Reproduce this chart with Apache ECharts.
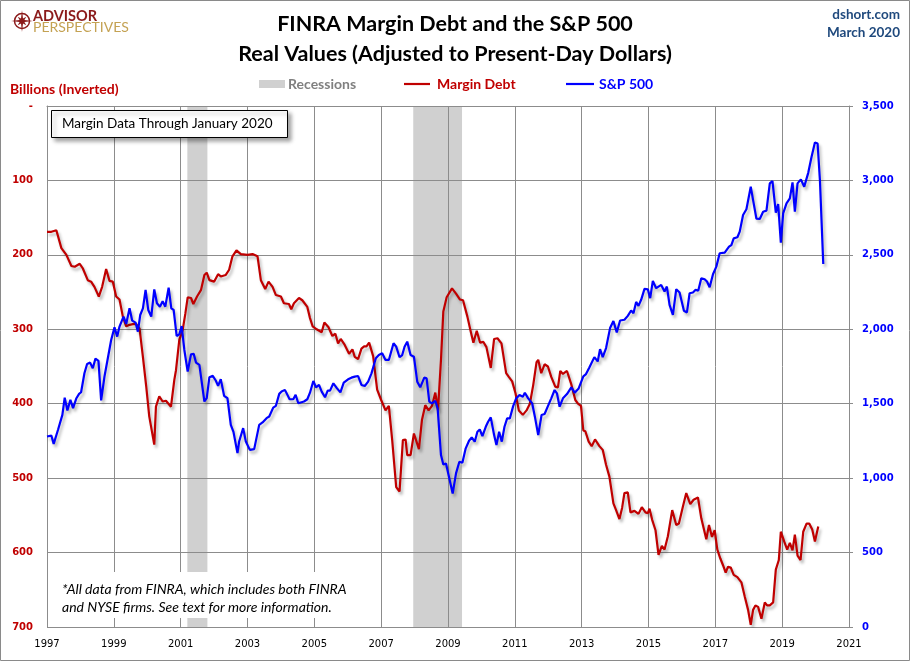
<!DOCTYPE html>
<html><head><meta charset="utf-8">
<script src="https://cdn.jsdelivr.net/npm/echarts@6/dist/echarts.min.js"></script>
<style>html,body{margin:0;padding:0;background:#fff}#c{width:910px;height:661px}</style>
</head><body><div id="c"></div><script>
// ---- Data (decimal years) ----
const marginDates = [
1997.00,1997.13,1997.28,1997.43,1997.58,1997.73,1997.83,1997.98,1998.07,1998.22,1998.32,1998.42,1998.55,1998.65,1998.77,1998.87,1998.97,
1999.07,1999.17,1999.27,1999.37,1999.47,1999.57,1999.67,1999.77,1999.87,1999.97,2000.06,2000.21,2000.26,2000.36,2000.46,2000.56,2000.71,
2000.81,2000.86,2000.96,2001.06,2001.14,2001.21,2001.31,2001.38,2001.49,2001.61,2001.71,2001.78,2001.86,2002.00,2002.12,2002.20,2002.35,
2002.45,2002.55,2002.67,2002.80,2003.00,2003.15,2003.30,2003.40,2003.53,2003.63,2003.75,2003.85,2004.00,2004.09,2004.24,2004.31,2004.39,
2004.54,2004.64,2004.79,2004.87,2004.95,2005.07,2005.22,2005.30,2005.42,2005.54,2005.63,2005.71,2005.79,2005.91,2006.04,2006.14,2006.21,
2006.31,2006.41,2006.49,2006.56,2006.64,2006.76,2006.88,2007.00,2007.13,2007.23,2007.33,2007.45,2007.55,2007.65,2007.73,2007.78,2007.88,
2007.98,2008.13,2008.22,2008.32,2008.42,2008.52,2008.62,2008.70,2008.79,2008.86,2008.96,2009.12,2009.24,2009.36,2009.45,2009.58,2009.68,
2009.76,2009.86,2009.96,2010.06,2010.15,2010.28,2010.38,2010.48,2010.60,2010.74,2010.82,2010.92,2011.02,2011.12,2011.24,2011.35,2011.45,
2011.55,2011.65,2011.70,2011.79,2011.89,2011.99,2012.09,2012.21,2012.29,2012.36,2012.44,2012.56,2012.69,2012.81,2012.89,2012.98,2013.05,
2013.11,2013.21,2013.30,2013.40,2013.53,2013.63,2013.73,2013.83,2013.95,2014.03,2014.13,2014.21,2014.28,2014.38,2014.46,2014.58,2014.70,
2014.80,2014.91,2014.98,2015.03,2015.11,2015.21,2015.30,2015.40,2015.48,2015.58,2015.71,2015.83,2015.91,2016.03,2016.13,2016.25,2016.35,
2016.48,2016.58,2016.63,2016.73,2016.81,2016.90,2016.98,2017.06,2017.15,2017.23,2017.31,2017.38,2017.46,2017.55,2017.66,2017.78,2017.88,
2017.98,2018.06,2018.13,2018.20,2018.28,2018.38,2018.48,2018.55,2018.63,2018.73,2018.81,2018.90,2018.96,2019.06,2019.15,2019.23,2019.31,
2019.38,2019.46,2019.55,2019.63,2019.73,2019.81,2019.90,2019.98,2020.08
];
const marginValues = [
169,169,167,191,200,215,216,212,218,234,236,243,256,243,219,235,236,
256,260,283,296,294,293,293,299,337,377,417,455,404,390,397,396,404,
368,355,314,301,279,257,258,266,256,247,227,224,234,236,226,229,227,
220,202,194,199,200,199,202,234,246,236,243,254,256,265,266,273,265,
258,261,270,285,296,300,304,291,297,309,306,319,313,321,333,327,337,
340,326,323,323,318,336,381,395,409,403,449,512,518,449,448,469,469,
440,461,422,402,409,403,385,409,341,276,257,245,252,260,261,283,303,
318,302,318,317,324,352,313,312,319,359,364,370,386,409,415,409,400,
375,344,341,359,347,350,364,377,378,356,360,356,374,395,400,403,436,
437,451,457,448,457,462,482,498,534,543,555,540,520,519,546,544,548,
539,546,547,541,556,570,603,591,596,578,543,563,561,538,520,535,529,
526,554,552,582,563,579,570,596,608,617,627,619,620,630,633,640,659,
677,697,677,671,673,689,667,671,671,667,623,610,572,585,596,587,597,
576,604,610,572,561,561,569,585,565
];
const spxDates = [
1997.00,1997.13,1997.20,1997.33,1997.46,1997.53,1997.61,1997.70,1997.78,1997.88,1997.96,1998.02,1998.12,1998.20,1998.29,1998.37,1998.45,
1998.54,1998.62,1998.72,1998.82,1998.92,1999.02,1999.10,1999.17,1999.29,1999.37,1999.47,1999.55,1999.65,1999.72,1999.79,1999.87,1999.95,
2000.03,2000.12,2000.21,2000.29,2000.38,2000.46,2000.54,2000.64,2000.72,2000.79,2000.88,2000.96,2001.03,2001.11,2001.21,2001.31,2001.39,
2001.46,2001.56,2001.71,2001.78,2001.86,2001.96,2002.05,2002.12,2002.20,2002.30,2002.40,2002.50,2002.58,2002.70,2002.75,2002.87,2002.95,
2003.07,2003.20,2003.35,2003.45,2003.57,2003.65,2003.70,2003.77,2003.85,2003.95,2004.02,2004.12,2004.26,2004.37,2004.44,2004.52,2004.69,
2004.79,2004.87,2004.97,2005.05,2005.14,2005.22,2005.32,2005.40,2005.47,2005.57,2005.68,2005.78,2005.88,2006.01,2006.11,2006.21,2006.31,
2006.41,2006.51,2006.61,2006.71,2006.84,2006.93,2007.03,2007.13,2007.23,2007.37,2007.45,2007.55,2007.63,2007.70,2007.78,2007.88,2007.98,
2008.08,2008.17,2008.29,2008.36,2008.44,2008.52,2008.62,2008.69,2008.79,2008.86,2008.94,2009.04,2009.14,2009.24,2009.34,2009.43,2009.53,
2009.63,2009.71,2009.80,2009.88,2009.95,2010.03,2010.13,2010.20,2010.28,2010.38,2010.45,2010.53,2010.61,2010.69,2010.77,2010.85,2010.95,
2011.04,2011.14,2011.24,2011.30,2011.40,2011.52,2011.60,2011.70,2011.80,2011.89,2011.99,2012.09,2012.19,2012.26,2012.34,2012.44,2012.56,
2012.69,2012.79,2012.91,2013.05,2013.13,2013.23,2013.38,2013.48,2013.55,2013.63,2013.73,2013.85,2013.95,2014.05,2014.15,2014.28,2014.38,
2014.48,2014.55,2014.63,2014.70,2014.78,2014.88,2014.98,2015.05,2015.13,2015.23,2015.38,2015.48,2015.55,2015.63,2015.73,2015.83,2015.93,
2016.06,2016.15,2016.23,2016.33,2016.41,2016.49,2016.58,2016.68,2016.75,2016.83,2016.93,2017.03,2017.13,2017.28,2017.41,2017.48,2017.55,
2017.66,2017.73,2017.83,2017.93,2017.98,2018.06,2018.13,2018.23,2018.33,2018.43,2018.53,2018.63,2018.71,2018.81,2018.88,2018.96,2019.03,
2019.13,2019.23,2019.31,2019.38,2019.46,2019.56,2019.66,2019.78,2019.88,2019.98,2020.06,2020.13,2020.23
];
const spxValues = [
1280,1286,1230,1325,1425,1541,1454,1526,1470,1537,1566,1577,1705,1767,1776,1738,1803,
1788,1522,1683,1805,1928,2013,1951,2018,2085,2036,2141,2058,2045,1984,2096,2141,2264,
2130,2085,2268,2175,2152,2188,2152,2280,2141,2130,1955,1966,2022,1861,1716,1832,1835,
1776,1761,1515,1537,1678,1687,1656,1620,1665,1553,1537,1358,1311,1168,1246,1336,1246,
1190,1195,1358,1374,1403,1414,1403,1474,1486,1566,1582,1593,1530,1530,1560,1503,1515,
1530,1574,1653,1610,1626,1581,1543,1588,1588,1637,1603,1576,1641,1664,1675,1682,1686,
1626,1619,1648,1704,1805,1827,1839,1794,1794,1906,1883,1812,1827,1883,1917,1827,1816,
1648,1610,1675,1670,1514,1502,1520,1469,1155,1092,1099,998,897,1032,1110,1103,1200,
1251,1274,1245,1312,1327,1283,1345,1379,1408,1289,1222,1312,1245,1345,1401,1401,1484,
1536,1558,1547,1574,1536,1502,1413,1289,1424,1431,1484,1536,1592,1570,1480,1536,1565,
1610,1574,1603,1684,1699,1744,1813,1784,1867,1813,1874,2008,2055,1979,2059,2064,2090,
2126,2108,2184,2157,2198,2271,2269,2209,2325,2276,2298,2254,2287,2164,2097,2269,2247,
2124,2113,2242,2247,2265,2260,2343,2336,2321,2283,2370,2421,2511,2515,2555,2566,2611,
2618,2656,2768,2806,2812,2958,2868,2743,2741,2790,2797,2980,2996,2783,2841,2582,2779,
2846,2879,2987,2790,2980,3007,2958,3051,3159,3255,3248,3002,2439
];
const recessionStarts = [2001.2, 2007.96];
const recessionEnds   = [2001.8, 2009.42];
const firstYear = 1997, lastYear = 2021;
const marginTicks = [0, 700, 100];    // min, max, step (inverted axis)
const spxTicks = [0, 3500, 500];

// ---- Build ----
const RED = '#C00000', BLUE = '#0000FF', GRID = '#8C8C8C';
const marginData = marginDates.map((d, i) => [d - firstYear, marginValues[i]]);
const spxData = spxDates.map((d, i) => [d - firstYear, spxValues[i]]);
const recData = recessionStarts.map((s, i) => [s - firstYear, recessionEnds[i] - firstYear]);

const chart = echarts.init(document.getElementById('c'), null, {renderer: 'canvas'});

function starPoints(cx, cy, R, r) {
  const pts = [];
  for (let k = 0; k < 16; k++) {
    const a = -Math.PI / 2 + k * Math.PI / 8;
    const rad = (k % 4 === 0) ? R : (k % 2 === 0 ? R * 0.55 : r);
    pts.push([cx + rad * Math.cos(a), cy + rad * Math.sin(a)]);
  }
  return pts;
}

const lineShadow = {shadowColor: 'rgba(0,0,0,0.28)', shadowBlur: 3, shadowOffsetX: 2, shadowOffsetY: 3};

const option = {
  animation: false,
  backgroundColor: '#fff',
  grid: {left: 47, right: 61, top: 106, bottom: 34, containLabel: false},
  xAxis: {
    type: 'value', min: 0, max: lastYear - firstYear, interval: 2,
    axisLine: {show: true, lineStyle: {color: GRID, width: 1}},
    axisTick: {show: false},
    axisLabel: {color: '#000', fontFamily: 'DejaVu Sans', fontSize: 10, margin: 12,
      formatter: v => String(v + firstYear)},
    splitLine: {show: true, lineStyle: {color: GRID, width: 1}}
  },
  yAxis: [
    {
      type: 'value', inverse: true, min: marginTicks[0], max: marginTicks[1], interval: marginTicks[2],
      position: 'left',
      axisLine: {show: true, lineStyle: {color: GRID}},
      axisTick: {show: false},
      axisLabel: {color: RED, fontFamily: 'DejaVu Sans', fontWeight: 'bold', fontSize: 10, margin: 14,
        formatter: v => v === 0 ? '-' : String(v)},
      splitLine: {show: true, lineStyle: {color: GRID, width: 1}}
    },
    {
      type: 'value', min: spxTicks[0], max: spxTicks[1], interval: spxTicks[2],
      position: 'right',
      axisLine: {show: true, lineStyle: {color: GRID}},
      axisTick: {show: true, inside: false, length: 4, lineStyle: {color: GRID}},
      axisLabel: {color: BLUE, fontFamily: 'DejaVu Sans', fontWeight: 'bold', fontSize: 10, margin: 13,
        formatter: v => v.toLocaleString('en-US')},
      splitLine: {show: false}
    }
  ],
  series: [
    {
      name: 'Recessions', type: 'custom', z: -1, yAxisIndex: 0, silent: true,
      encode: {x: [0, 1]},
      data: recData,
      renderItem: (params, api) => {
        const p0 = api.coord([api.value(0), marginTicks[0]]);
        const p1 = api.coord([api.value(1), marginTicks[1]]);
        return {type: 'rect', shape: {x: p0[0], y: p0[1], width: p1[0] - p0[0], height: p1[1] - p0[1]},
          style: {fill: '#D0D0D0'}};
      }
    },
    {
      name: 'Margin Debt', type: 'line', yAxisIndex: 0, data: marginData, showSymbol: false,
      lineStyle: Object.assign({color: RED, width: 2.2}, lineShadow), z: 3
    },
    {
      name: 'S&P 500', type: 'line', yAxisIndex: 1, data: spxData, showSymbol: false,
      lineStyle: Object.assign({color: BLUE, width: 2.2}, lineShadow), z: 4
    }
  ],
  graphic: [
    {type: 'rect', z: 100, shape: {x: 0.5, y: 0.5, width: 909, height: 660}, style: {fill: 'none', stroke: '#8A8A8A', lineWidth: 1}},
    // logo
    {type: 'circle', z: 10, shape: {cx: 22, cy: 21, r: 7.5}, style: {fill: 'none', stroke: '#8B1A1A', lineWidth: 1.5}},
    {type: 'polygon', z: 11, shape: {points: starPoints(22, 21, 11, 2.6)}, style: {fill: '#8B1A1A'}},
    {type: 'text', z: 10, x: 33, y: 16.5, style: {text: 'ADVISOR', fill: '#8B1A1A', font: 'bold 14.5px Lato', textVerticalAlign: 'middle'}},
    {type: 'text', z: 10, x: 33, y: 27, style: {text: 'PERSPECTIVES', fill: '#C4A253', font: '14px Lato', textVerticalAlign: 'middle'}},
    // titles
    {type: 'text', z: 10, x: 455, y: 24, style: {text: 'FINRA Margin Debt and the S&P 500', fill: '#000', font: 'bold 21.5px Lato', textAlign: 'center', textVerticalAlign: 'middle'}},
    {type: 'text', z: 10, x: 455, y: 54, style: {text: 'Real Values (Adjusted to Present-Day Dollars)', fill: '#000', font: 'bold 21.5px Lato', textAlign: 'center', textVerticalAlign: 'middle'}},
    {type: 'text', z: 10, x: 900, y: 15, style: {text: 'dshort.com', fill: '#1F497D', font: 'bold 13.5px Lato', textAlign: 'right', textVerticalAlign: 'middle'}},
    {type: 'text', z: 10, x: 900, y: 33, style: {text: 'March 2020', fill: '#1F497D', font: 'bold 13.5px Lato', textAlign: 'right', textVerticalAlign: 'middle'}},
    {type: 'text', z: 10, x: 10, y: 89, style: {text: 'Billions (Inverted)', fill: RED, font: 'bold 14px Lato', textVerticalAlign: 'middle'}},
    // legend
    {type: 'rect', z: 10, shape: {x: 259, y: 80, width: 26, height: 8}, style: {fill: '#D0D0D0'}},
    {type: 'text', z: 10, x: 288, y: 84, style: {text: 'Recessions', fill: '#808080', font: 'bold 14px Lato', textVerticalAlign: 'middle'}},
    {type: 'line', z: 10, shape: {x1: 404, y1: 84, x2: 430, y2: 84}, style: {stroke: RED, lineWidth: 2.2}},
    {type: 'text', z: 10, x: 437, y: 84, style: {text: 'Margin Debt', fill: RED, font: 'bold 14px Lato', textVerticalAlign: 'middle'}},
    {type: 'line', z: 10, shape: {x1: 566, y1: 84, x2: 594, y2: 84}, style: {stroke: BLUE, lineWidth: 2.2}},
    {type: 'text', z: 10, x: 599, y: 84, style: {text: 'S&P 500', fill: BLUE, font: 'bold 14px Lato', textVerticalAlign: 'middle'}},
    // annotation box
    {type: 'rect', z: 10, shape: {x: 51.5, y: 110.5, width: 236, height: 27},
      style: {fill: '#fff', stroke: '#000', lineWidth: 1, shadowColor: 'rgba(0,0,0,0.35)', shadowBlur: 4, shadowOffsetX: 3, shadowOffsetY: 3}},
    {type: 'text', z: 11, x: 62, y: 124, style: {text: 'Margin Data Through January 2020', fill: '#000', font: '13.5px Lato', textVerticalAlign: 'middle'}},
    // footnote
    {type: 'rect', z: 10, shape: {x: 55, y: 572, width: 310, height: 46}, style: {fill: '#fff'}},
    {type: 'text', z: 11, x: 62, y: 589, style: {text: '*All data from FINRA, which includes both FINRA', fill: '#000', font: 'italic 14px Lato', textVerticalAlign: 'middle'}},
    {type: 'text', z: 11, x: 62, y: 607, style: {text: 'and NYSE firms. See text for more information.', fill: '#000', font: 'italic 14px Lato', textVerticalAlign: 'middle'}}
  ]
};
chart.setOption(option);
</script></body></html>
